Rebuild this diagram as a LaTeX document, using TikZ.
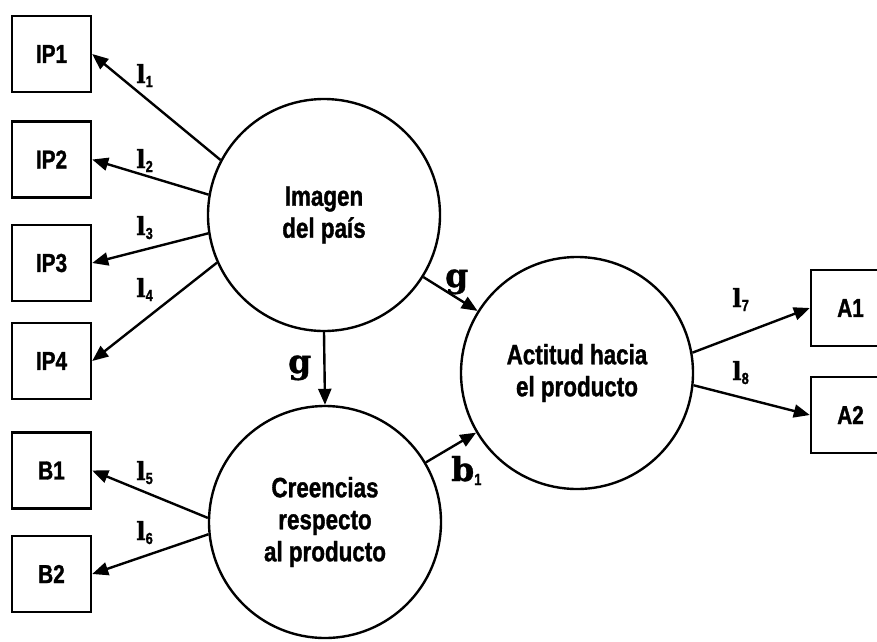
\documentclass[tikz,border=0pt]{standalone}
\usepackage{fontspec}
\setmainfont{Liberation Sans}
\newfontfamily\narrowsans{Liberation Sans}[FakeStretch=0.8,BoldFeatures={FakeBold=1.2}]
\newfontfamily\coefserif{DejaVu Serif}[BoldFeatures={FakeBold=1}]
\usetikzlibrary{arrows.meta}

% path coefficient: bold serif letter with a narrow sans subscript
\newcommand\coefsub[3]{{\coefserif\bfseries\fontsize{#1}{#1}\selectfont #2}\raisebox{-4pt}{\narrowsans\bfseries\fontsize{16}{16}\selectfont #3}}
\newcommand\coefbare[2]{{\coefserif\bfseries\fontsize{#1}{#1}\selectfont #2}}

\begin{document}
\begin{tikzpicture}[x=1pt,y=-1pt,
  indicator/.style={draw,line width=2.4pt,minimum width=79pt,minimum height=76pt,
    inner sep=0pt,font=\narrowsans\bfseries\fontsize{26}{30}\selectfont},
  latent/.style={draw,circle,line width=2.4pt,minimum size=232pt,inner sep=0pt,
    align=center,font=\narrowsans\bfseries\fontsize{28}{32}\selectfont},
  pathline/.style={line width=2.4pt,-{Triangle[length=16pt,width=13pt]}},
  coef/.style={inner sep=0pt,anchor=base west}
]
\useasboundingbox (0,0) rectangle (877,641);
\clip (0,0) rectangle (877,641);

% observed indicators
\node[indicator] (ip1) at (51.5,54) {IP1};
\node[indicator] (ip2) at (51.5,159.5) {IP2};
\node[indicator] (ip3) at (51.5,263) {IP3};
\node[indicator] (ip4) at (51.5,361) {IP4};
\node[indicator] (b1) at (51.5,470.5) {B1};
\node[indicator] (b2) at (51.5,574) {B2};
\node[indicator] (a1) at (850.5,308) {A1};
\node[indicator] (a2) at (850.5,415) {A2};

% latent constructs
\node[latent] (img) at (324,215) {Imagen\\del país};
\node[latent] (cre) at (325,522) {Creencias\\respecto\\al producto};
\node[latent] (act) at (577,373) {Actitud hacia\\el producto};

% measurement paths
\draw[pathline] (img.152.5) -- (ip1.east);
\draw[pathline] (img.170.5) -- (ip2.east);
\draw[pathline] (img.189.4) -- (ip3.east);
\draw[pathline] (img.204.8) -- (ip4.east);
\draw[pathline] (cre.178) -- (b1.east);
\draw[pathline] (cre.186.5) -- (b2.east);
\draw[pathline] (act.10.5) -- (a1.west);
\draw[pathline] (act.-6) -- (a2.west);

% structural paths
\draw[pathline] (img) -- (act);
\draw[pathline] (img.south) -- (cre.north);
\draw[pathline] (cre) -- (act);

% coefficients
\node[coef] (c1) at (136,83) {\coefsub{25}{l}{1}};
\node[coef] (c2) at (136,168) {\coefsub{25}{l}{2}};
\node[coef] (c3) at (136,235) {\coefsub{25}{l}{3}};
\node[coef] (c4) at (136,297) {\coefsub{25}{l}{4}};
\node[coef] (c5) at (136,480) {\coefsub{25}{l}{5}};
\node[coef] (c6) at (136,540) {\coefsub{25}{l}{6}};
\node[coef] (c7) at (732,307) {\coefsub{25}{l}{7}};
\node[coef] (c8) at (732,380) {\coefsub{25}{l}{8}};
\node[coef] (g1) at (445,287) {\coefbare{33}{g}};
\node[coef] (g2) at (288,373) {\coefbare{33}{g}};
\node[coef] (bb) at (451,481) {\coefsub{33}{b}{1}};
\end{tikzpicture}
\end{document}
